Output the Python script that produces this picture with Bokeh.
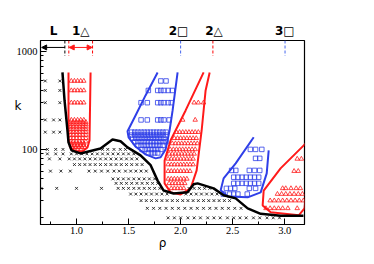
from bokeh.plotting import figure
from bokeh.models import (Range1d, FixedTicker, LinearAxis, LogAxis, Arrow, NormalHead,
                          PrintfTickFormatter)
from bokeh.embed import file_html
from bokeh.resources import INLINE

# ---------------- data ----------------
# black crosses: rows of k with the rho values sampled on that row
BLACK_K = [500, 400, 300, 200, 150, 100, 90, 80, 70, 60, 50, 45, 40, 35, 30, 25, 20]
BLACK_RHO = [
    [0.70, 0.84],
    [0.70, 0.84],
    [0.70, 0.84],
    [0.70, 0.78, 0.84],
    [0.70, 0.78, 0.84],
    [0.72, 0.80, 0.87, 1.25, 1.30, 1.36, 1.42, 1.47],
    [0.72, 0.80, 0.87, 0.95, 1.00, 1.05, 1.10, 1.15, 1.20, 1.25, 1.30, 1.35, 1.40, 1.45, 1.50, 1.55],
    [0.74, 0.84, 0.93, 0.98, 1.03, 1.08, 1.13, 1.18, 1.23, 1.28, 1.33, 1.38, 1.43, 1.48, 1.53, 1.58],
    [0.98, 1.03, 1.08, 1.13, 1.18, 1.23, 1.28, 1.33, 1.38, 1.43, 1.48, 1.53, 1.58, 1.63],
    [0.75, 0.85, 0.94, 1.12, 1.18, 1.24, 1.30, 1.36, 1.41, 1.47, 1.52, 1.57, 1.62, 1.67],
    [1.35, 1.40, 1.45, 1.50, 1.55, 1.60, 1.65, 1.70, 1.75],
    [1.38, 1.43, 1.48, 1.53, 1.58, 1.63, 1.68, 1.73, 1.78],
    [0.66, 0.81, 1.00, 1.24, 1.40, 1.45, 1.50, 1.55, 1.60, 1.65, 1.70, 1.75, 1.80, 2.08, 2.13, 2.18, 2.23, 2.28],
    [1.52, 1.57, 1.62, 1.67, 1.72, 1.77, 1.82, 1.87, 2.05, 2.10, 2.15, 2.20, 2.25, 2.30, 2.35],
    [1.62, 1.67, 1.72, 1.77, 1.82, 1.87, 1.92, 1.97, 2.02, 2.07, 2.12, 2.17, 2.22, 2.27, 2.32, 2.37, 2.42, 2.47],
    [1.68, 1.74, 1.80, 1.86, 1.92, 1.98, 2.04, 2.10, 2.16, 2.22, 2.28, 2.34, 2.40, 2.46, 2.52, 2.58],
    [1.88, 1.94, 2.00, 2.07, 2.13, 2.19, 2.26, 2.32, 2.38, 2.45, 2.51, 2.57, 2.63, 2.70, 2.76, 2.83, 2.89, 2.95],
]

# red triangles, phase 1
TRI1_K = [500, 400, 300, 200, 190, 180, 170, 160, 150, 140, 130, 120, 115, 110, 105, 100]
TRI1_RHO = [
    [0.95, 0.98, 1.01, 1.04, 1.07],
    [0.95, 0.98, 1.01, 1.04, 1.07],
    [0.95, 0.98, 1.01, 1.04, 1.07],
    [0.95, 0.98, 1.01, 1.04, 1.07],
    [0.94, 0.97, 1.00, 1.03, 1.06, 1.09],
    [0.94, 0.97, 1.00, 1.03, 1.06, 1.09],
    [0.94, 0.97, 1.00, 1.03, 1.06, 1.09],
    [0.94, 0.97, 1.00, 1.03, 1.06, 1.09],
    [0.94, 0.97, 1.00, 1.03, 1.06, 1.09],
    [0.94, 0.97, 1.00, 1.03, 1.06, 1.09],
    [0.94, 0.97, 1.00, 1.03, 1.06, 1.09],
    [0.94, 0.97, 1.00, 1.03, 1.06, 1.09],
    [0.95, 0.98, 1.01, 1.04, 1.07],
    [0.95, 0.98, 1.01, 1.04, 1.07],
    [0.96, 0.99, 1.02, 1.05, 1.08],
    [0.98, 1.01, 1.04],
]

# blue squares, phase 2
SQ2_K = [500, 400, 300, 200, 150, 140, 130, 120, 110, 100, 92]
SQ2_RHO = [
    [1.81, 1.86],
    [1.69, 1.78, 1.81, 1.84, 1.88, 1.92],
    [1.62, 1.68, 1.78, 1.81, 1.84, 1.88, 1.91],
    [1.62, 1.68, 1.78, 1.81, 1.84, 1.89],
    [1.53, 1.56, 1.59, 1.62, 1.65, 1.68, 1.71, 1.74, 1.77, 1.80, 1.83, 1.86],
    [1.53, 1.56, 1.59, 1.62, 1.65, 1.68, 1.71, 1.74, 1.77, 1.80, 1.83, 1.86],
    [1.54, 1.57, 1.60, 1.63, 1.66, 1.69, 1.72, 1.75, 1.78, 1.81, 1.84],
    [1.56, 1.59, 1.62, 1.65, 1.68, 1.71, 1.74, 1.77, 1.80, 1.83, 1.86],
    [1.59, 1.62, 1.65, 1.68, 1.71, 1.74, 1.77, 1.80, 1.83],
    [1.63, 1.66, 1.69, 1.72, 1.75, 1.78, 1.81],
    [1.69, 1.72, 1.75, 1.78],
]

# red triangles, phase 2
TRI2_K = [300, 200, 150, 130, 115, 100, 90, 80, 70, 60, 50, 45, 40]
TRI2_RHO = [
    [2.13, 2.17, 2.22],
    [2.02, 2.14],
    [1.96, 1.99, 2.02, 2.05, 2.08, 2.11, 2.14, 2.17],
    [1.94, 1.97, 2.00, 2.03, 2.06, 2.09, 2.12, 2.15],
    [1.92, 1.95, 1.98, 2.01, 2.04, 2.07, 2.10, 2.13, 2.16],
    [1.90, 1.93, 1.96, 1.99, 2.02, 2.05, 2.08, 2.11, 2.14],
    [1.89, 1.92, 1.95, 1.98, 2.01, 2.04, 2.07, 2.10, 2.13],
    [1.88, 1.91, 1.94, 1.97, 2.00, 2.03, 2.06, 2.09, 2.12],
    [1.88, 1.91, 1.94, 1.97, 2.00, 2.03, 2.06, 2.09, 2.12],
    [1.88, 1.91, 1.94, 1.97, 2.00, 2.03, 2.06, 2.09],
    [1.88, 1.91, 1.94, 1.97, 2.00, 2.03, 2.06],
    [1.89, 1.92, 1.95, 1.98, 2.01, 2.04],
    [1.91, 1.94, 1.97, 2.00, 2.03],
]

# blue squares, phase 3
SQ3_K = [100, 81, 61, 52, 45, 40, 35]
SQ3_RHO = [
    [2.67, 2.72, 2.78],
    [2.72, 2.76],
    [2.49, 2.53, 2.66, 2.71, 2.76],
    [2.51, 2.55, 2.59, 2.63, 2.67, 2.71, 2.75],
    [2.51, 2.55, 2.59, 2.63, 2.67, 2.71, 2.75],
    [2.44, 2.48, 2.52, 2.66, 2.72],
    [2.41, 2.47, 2.51, 2.55, 2.64],
]

# red triangles, phase 3
TRI3_K = [80, 60, 40, 35, 30, 25]
TRI3_RHO = [
    [3.12, 3.16],
    [3.09, 3.13],
    [2.98, 3.01, 3.06, 3.11, 3.15],
    [2.93, 2.97, 3.01, 3.05, 3.09, 3.13, 3.17],
    [2.86, 2.90, 2.94, 2.98, 3.02, 3.06, 3.10, 3.14, 3.18],
    [2.82, 2.86, 2.90, 2.94, 2.98, 3.03, 3.12],
]

# boundary curves
BLACK_CURVE_RHO = [0.865, 0.885, 0.913, 0.923, 0.952, 1.038, 1.231, 1.346, 1.423, 1.49, 1.615, 1.712,
                   1.779, 1.837, 1.933, 2.067, 2.125, 2.163, 2.317, 2.413, 2.529, 2.644, 2.769, 2.96, 3.18]
BLACK_CURVE_K = [611, 316, 156, 118, 97.7, 91, 102, 126, 121, 105, 87, 69,
                 48, 38, 35.5, 36.5, 44, 45, 40, 34, 31.6, 25, 22, 21, 21]

RED1_RHO = [0.923, 0.923, 0.942, 0.99, 1.058, 1.106, 1.125, 1.135]
RED1_K = [611, 124, 105, 95.4, 95.4, 105, 124, 611]

BLUE2_RHO = [1.779, 1.663, 1.567, 1.49, 1.50, 1.567, 1.663, 1.76, 1.808, 1.856, 1.894, 1.923, 1.971]
BLUE2_K = [611, 356, 222, 153, 133, 107, 89, 81, 83, 100, 156, 250, 611]

RED2_RHO = [2.221, 2.048, 1.904, 1.846, 1.846, 1.904, 2.0, 2.096, 2.154, 2.202, 2.24, 2.279]
RED2_K = [611, 250, 124, 77, 45, 36.4, 34.7, 40, 61, 156, 400, 611]

BLUE3_RHO = [2.702, 2.529, 2.413, 2.385, 2.452, 2.644, 2.769, 2.827, 2.846]
BLUE3_K = [133, 72, 50.6, 38.2, 33.1, 32.4, 36.4, 56.9, 97.7]

RED3_RHO = [3.25, 3.183, 2.96, 2.798, 2.788, 2.865, 3.135, 3.19, 3.23]
RED3_K = [133, 110, 64, 38, 26.8, 22.8, 21.2, 25, 60]

# phase-marker labels on top
TOP_POS = [0.78, 1.04, 1.98, 2.32, 3.0]
TOP_TXT = ["L", "1\u25b3", "2\u25a1", "2\u25b3", "3\u25a1"]
DASH_RHO = [0.888, 0.926, 1.154, 2.0, 2.31, 3.003]
DASH_COL = ["black", "red", "red", "#4466ee", "red", "#4466ee"]

# axis title positions
K_LABEL_POS = 275
RHO_LABEL_POS = 1.827

RED = "#ff1a1a"
BLUE = "#2f3fe8"


def flatten(ks, rhos):
    xs, ys = [], []
    for k, row in zip(ks, rhos):
        for r in row:
            xs.append(r)
            ys.append(k)
    return xs, ys


p = figure(width=370, height=260, output_backend="svg", toolbar_location=None,
           x_range=Range1d(0.654, 3.19), y_range=Range1d(17.1, 1295),
           y_axis_type="log", min_border_left=40, min_border_right=66,
           min_border_top=40, min_border_bottom=36)
p.grid.visible = False
p.outline_line_color = "black"
p.outline_line_width = 1.2
p.background_fill_color = "white"

# points
bx, by = flatten(BLACK_K, BLACK_RHO)
p.scatter(bx, by, marker="x", size=4, line_color="#222222", line_width=0.9)
tx, ty = flatten(TRI1_K, TRI1_RHO)
p.scatter(tx, ty, marker="triangle", size=4.5, line_color=RED, fill_color=None, line_width=0.8)
tx, ty = flatten(TRI2_K, TRI2_RHO)
p.scatter(tx, ty, marker="triangle", size=4.5, line_color=RED, fill_color=None, line_width=0.8)
tx, ty = flatten(TRI3_K, TRI3_RHO)
p.scatter(tx, ty, marker="triangle", size=4.5, line_color=RED, fill_color=None, line_width=0.8)
sx, sy = flatten(SQ2_K, SQ2_RHO)
p.scatter(sx, sy, marker="square", size=4.5, line_color=BLUE, fill_color=None, line_width=0.8)
sx, sy = flatten(SQ3_K, SQ3_RHO)
p.scatter(sx, sy, marker="square", size=4.5, line_color=BLUE, fill_color=None, line_width=0.8)

# outlines
p.line(RED1_RHO, RED1_K, line_color=RED, line_width=2)
p.line(BLUE2_RHO, BLUE2_K, line_color=BLUE, line_width=2)
p.line(RED2_RHO, RED2_K, line_color=RED, line_width=2)
p.line(BLUE3_RHO, BLUE3_K, line_color=BLUE, line_width=2)
p.line(RED3_RHO, RED3_K, line_color=RED, line_width=2)
p.line(BLACK_CURVE_RHO, BLACK_CURVE_K, line_color="black", line_width=2.5)

# dashed markers at top
p.segment(x0=DASH_RHO, y0=[1295] * len(DASH_RHO), x1=DASH_RHO, y1=[900] * len(DASH_RHO),
          line_color=DASH_COL, line_dash="3 2", line_width=1)
p.add_layout(Arrow(end=NormalHead(size=5, fill_color="black", line_color="black"),
                   x_start=0.888, y_start=1100, x_end=0.665, y_end=1100,
                   line_color="black", line_width=1))
p.add_layout(Arrow(start=NormalHead(size=5, fill_color=RED, line_color=RED),
                   end=NormalHead(size=5, fill_color=RED, line_color=RED),
                   x_start=0.93, y_start=1100, x_end=1.15, y_end=1100,
                   line_color=RED, line_width=1))

# axes
xa = p.xaxis[0]
xa.ticker = FixedTicker(ticks=[1.0, 1.5, 2.0, 2.5, 3.0], minor_ticks=[0.75, 1.25, 1.75, 2.25, 2.75])
xa.formatter = PrintfTickFormatter(format="%.1f")
ya = p.yaxis[0]
ya.ticker = FixedTicker(ticks=[100, 1000],
                        minor_ticks=[20, 30, 40, 50, 60, 70, 80, 90, 200, 300, 400, 500, 600, 700, 800, 900])
ya.formatter = PrintfTickFormatter(format="%d")
for ax in (xa, ya):
    ax.major_tick_in = 6
    ax.major_tick_out = 0
    ax.minor_tick_in = 3
    ax.minor_tick_out = 0
    ax.axis_line_color = "black"
    ax.major_tick_line_color = "black"
    ax.minor_tick_line_color = "black"
    ax.major_label_text_font = "Liberation Serif"
    ax.major_label_text_font_size = "10.5px"
    ax.major_label_text_color = "black"
xa.major_label_standoff = 2
ya.major_label_standoff = 3


def label_axis(axis_cls, pos, txt, font, size, standoff):
    ax = axis_cls(ticker=FixedTicker(ticks=pos, minor_ticks=[]),
                  major_label_overrides={v: t for v, t in zip(pos, txt)})
    ax.axis_line_color = None
    ax.major_tick_line_color = None
    ax.minor_tick_line_color = None
    ax.major_tick_in = 0
    ax.major_tick_out = 0
    ax.minor_tick_in = 0
    ax.minor_tick_out = 0
    ax.major_label_text_font = font
    ax.major_label_text_font_size = size
    ax.major_label_text_color = "black"
    ax.major_label_standoff = standoff
    return ax


top = label_axis(LinearAxis, TOP_POS, TOP_TXT, "DejaVu Sans", "12px", 3)
top.major_label_text_font_style = "bold"
p.add_layout(top, "above")

kax = label_axis(LogAxis, [K_LABEL_POS], ["k"], "DejaVu Sans", "12px", -8)
kax.major_label_orientation = "horizontal"
p.add_layout(kax, "left")

rax = label_axis(LinearAxis, [RHO_LABEL_POS], ["\u03c1"], "DejaVu Sans", "12px", -1)
p.add_layout(rax, "below")

open("out.html", "w").write(file_html(p, INLINE))
